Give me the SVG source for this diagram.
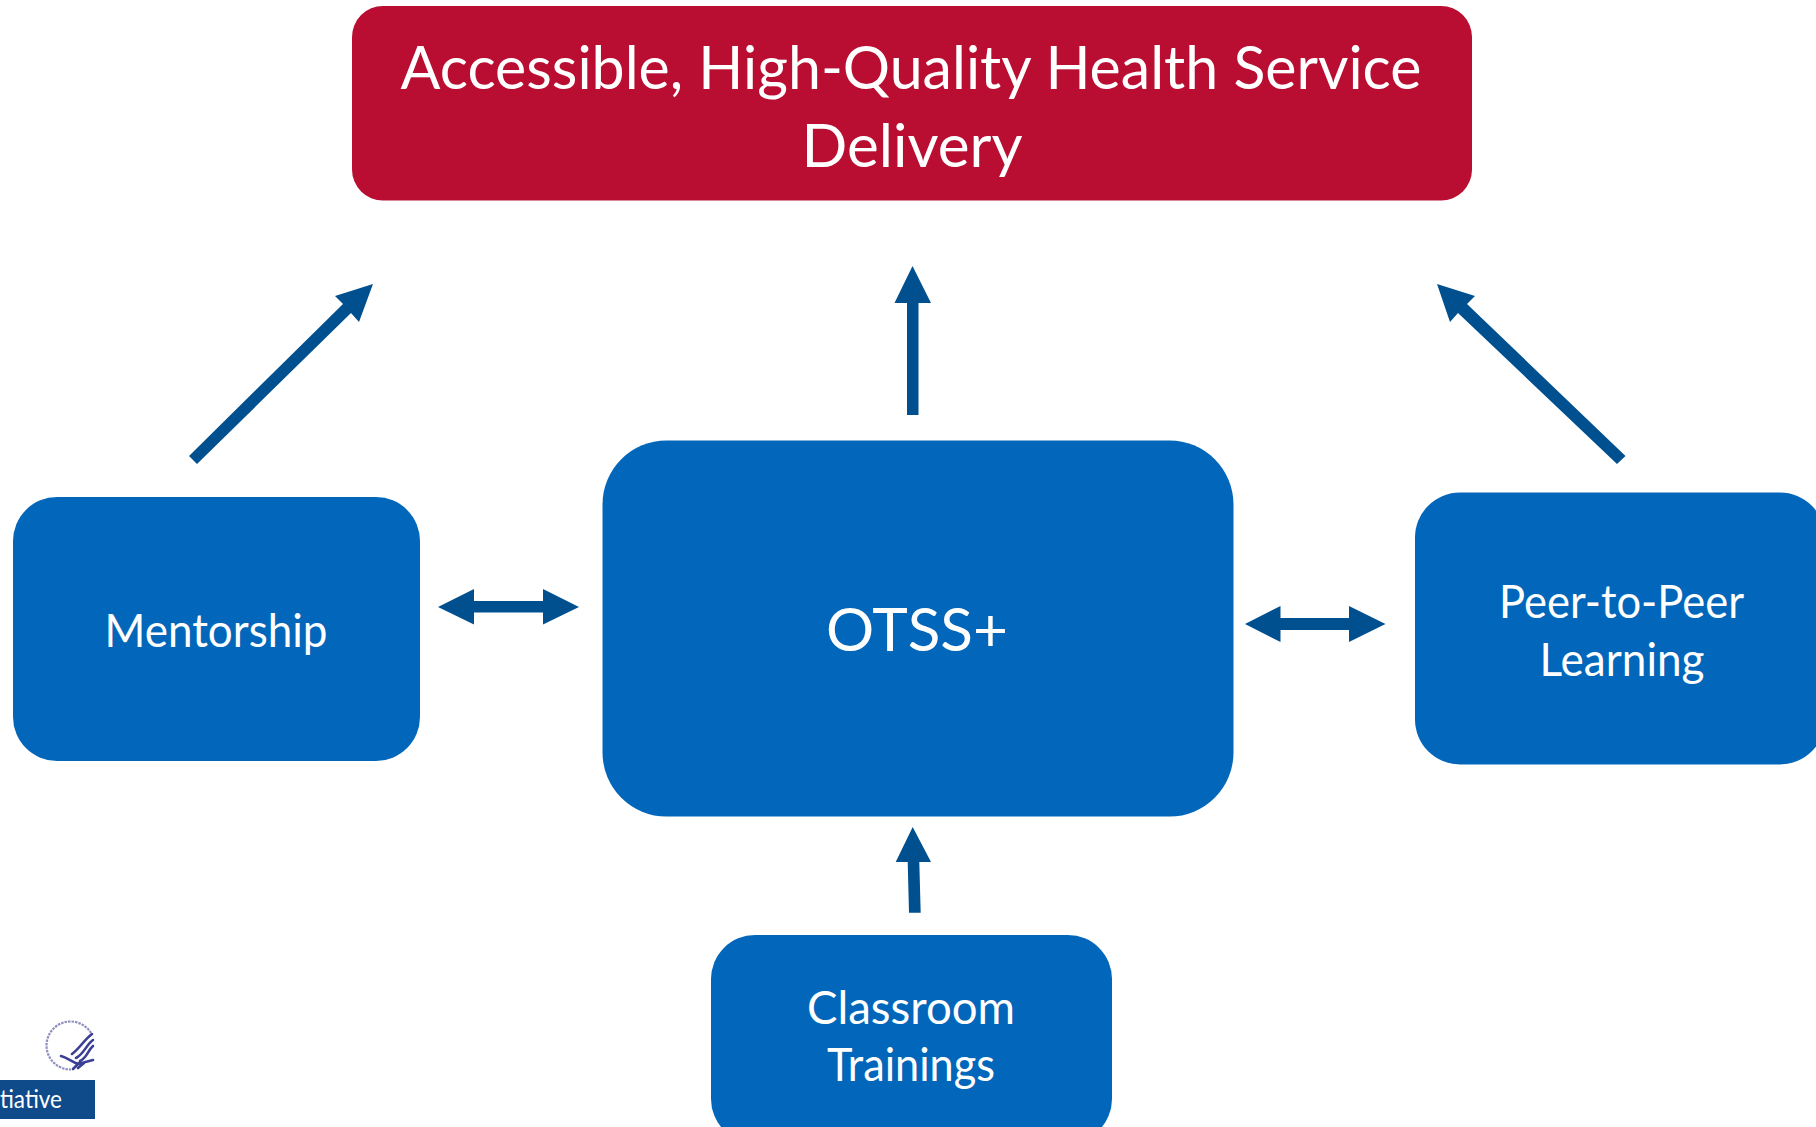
<svg xmlns="http://www.w3.org/2000/svg" width="1816" height="1127" viewBox="0 0 1816 1127">
<style>
.box{fill:#0267BA}
.arrow{fill:#00508F}
text{font-family:"Lato","Noto Sans",sans-serif;fill:#fff;text-anchor:middle}
.eagle{fill:none;stroke:#3B3F94;stroke-width:2.6;stroke-linecap:round}
</style>
<defs><filter id="soft" x="-5%" y="-5%" width="110%" height="110%"><feGaussianBlur stdDeviation="0.5"/></filter></defs>
<rect width="1816" height="1127" fill="#fff"/>
<g id="connectors">
<polygon class="arrow" points="373,284 359,322 351,313 197,464 189,456 343,304 335,296"/>
<polygon class="arrow" points="912.5,266 931,303 918.5,303 918.5,415 907,415 907,303 894.500,303"/>
<polygon class="arrow" points="1437,284 1475,296 1467,304 1625.5,456 1617,464 1458,313 1450,322"/>
<polygon class="arrow" points="438,607 474,589 474,601 543,601 543,589 579,607 543,624.500 543,612.5 474,612.5 474,624.500"/>
<polygon class="arrow" points="1245,624 1280.5,606 1280.5,618 1349,618 1349,606 1385.500,624 1349,642 1349,630 1280.5,630 1280.5,642"/>
<polygon class="arrow" points="912.7,827 931,862 919.3,862 920.7,912.7 909,912.7 907.7,862 895.7,862"/>
</g>
<g id="node-goal">
<rect x="352" y="6" width="1120" height="194.500" rx="31" fill="#B90E31"/>
<text x="911" y="89" font-size="60" textLength="1021" lengthAdjust="spacingAndGlyphs">Accessible, High-Quality Health Service</text>
<text x="912" y="167" font-size="60" textLength="221" lengthAdjust="spacingAndGlyphs">Delivery</text>
</g>
<g id="node-otss">
<rect class="box" x="602.500" y="440.500" width="631" height="376" rx="64"/>
<text x="917" y="651" font-size="60" textLength="182" lengthAdjust="spacingAndGlyphs">OTSS+</text>
</g>
<g id="node-mentorship">
<rect class="box" x="13" y="497" width="407" height="264" rx="44"/>
<text x="216" y="647" font-size="47" textLength="223" lengthAdjust="spacingAndGlyphs">Mentorship</text>
</g>
<g id="node-peer">
<rect class="box" x="1415" y="492.500" width="410" height="272" rx="45"/>
<text x="1621.500" y="618" font-size="47" textLength="245" lengthAdjust="spacingAndGlyphs">Peer-to-Peer</text>
<text x="1622" y="676" font-size="47" textLength="165" lengthAdjust="spacingAndGlyphs">Learning</text>
</g>
<g id="node-classroom">
<rect class="box" x="711" y="935" width="401" height="208" rx="44"/>
<text x="911" y="1024" font-size="47" textLength="208" lengthAdjust="spacingAndGlyphs">Classroom</text>
<text x="911" y="1081" font-size="47" textLength="168" lengthAdjust="spacingAndGlyphs">Trainings</text>
</g>
<g id="logo">
<g filter="url(#soft)">
<path d="M91,1033 A24,24 0 1 0 71,1069.500" fill="none" stroke="#8F90BE" stroke-width="2.200" stroke-dasharray="2.500 1"/>
<path class="eagle" d="M92,1034 C84,1040 80,1048 72,1054 M93,1040 C86,1045 84,1054 76,1058 M93,1046 C88,1050 87,1058 80,1061 M61,1056 C68,1058 72,1062 78,1064 L93,1060 M73,1069 L79,1063 M78,1068 L84,1063"/>
</g>
<rect x="0" y="1080" width="95" height="39" fill="#0F4A8A"/>
<text x="31" y="1108" font-size="25" textLength="62" lengthAdjust="spacingAndGlyphs">tiative</text>
</g>
</svg>
